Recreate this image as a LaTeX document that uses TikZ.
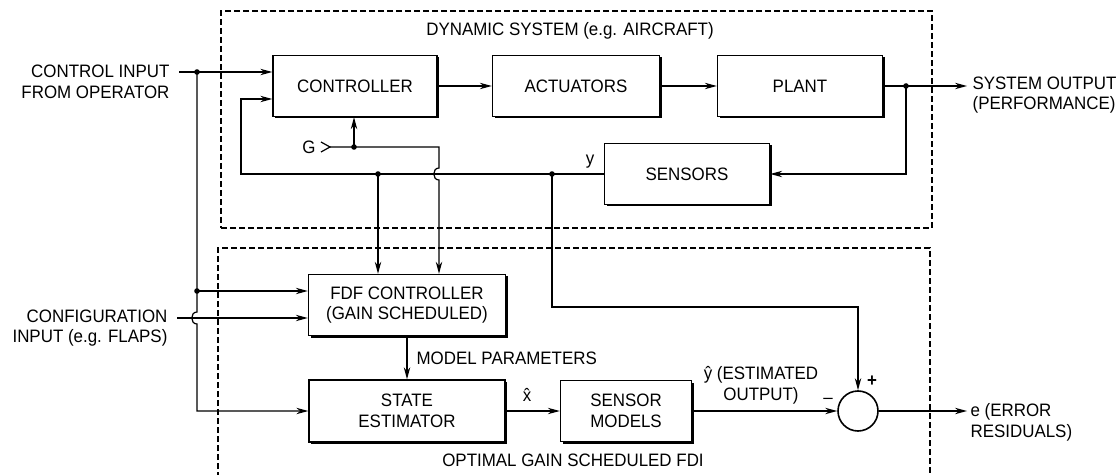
\documentclass[tikz,border=0pt]{standalone}
\usepackage{fontspec}
\setmainfont{Liberation Sans}[FakeStretch=0.94]
\usetikzlibrary{arrows.meta,shadows,calc}

\begin{document}
\begin{tikzpicture}[
    x=0.5pt, y=-0.5pt,
    font=\fontsize{9}{10.4}\selectfont,
    line width=0.6pt,
    blk/.style={draw, fill=white, line width=0.7pt, align=center, inner sep=2pt,
        drop shadow={shadow xshift=1pt, shadow yshift=-1pt, fill=black, opacity=1}},
    grp/.style={draw, line width=0.6pt, dash pattern=on 3pt off 1.5pt},
    arr/.style={-{Stealth[length=6pt, width=3.2pt]}},
    lbl/.style={inner sep=0pt}
]
  \useasboundingbox (0,0) rectangle (1117,475);

  % -------------------------------------------------------------
  % DYNAMIC SYSTEM
  % -------------------------------------------------------------
  \node[grp, minimum width=355.5pt, minimum height=108.5pt] (dyn) at (576.5,119.5) {};
  \node[lbl] (dyntitle) at (570,31) {DYNAMIC SYSTEM (e.g. AIRCRAFT)};

  \node[blk, minimum width=82pt, minimum height=30.5pt] (ctrl) at (355,86) {CONTROLLER};
  \node[blk, minimum width=83.5pt, minimum height=30.5pt] (act) at (576,86) {ACTUATORS};
  \node[blk, minimum width=82.5pt, minimum height=30.5pt] (plant) at (800,86) {PLANT};
  \node[blk, minimum width=82.5pt, minimum height=30.5pt] (sens) at (687,174) {SENSORS};

  % -------------------------------------------------------------
  % OPTIMAL GAIN SCHEDULED FDI
  % -------------------------------------------------------------
  \draw[grp] (218,478) -- (218,248) -- (930,248) -- (930,478);
  \node[lbl] (fdititle) at (573,460) {OPTIMAL GAIN SCHEDULED FDI};

  \node[blk, minimum width=98.5pt, minimum height=30.5pt] (fdf) at (407,305) {FDF CONTROLLER\\(GAIN SCHEDULED)};
  \node[blk, minimum width=98pt, minimum height=31pt] (est) at (407,411) {STATE\\ESTIMATOR};
  \node[blk, minimum width=65.5pt, minimum height=30.5pt] (smod) at (626,411) {SENSOR\\MODELS};
  \node[draw, circle, minimum size=20pt, line width=0.8pt, inner sep=0pt] (sum) at (858,411) {};

  % outside texts
  \node[lbl, align=right, anchor=east] (ctrlin) at (170,82) {CONTROL INPUT\\FROM OPERATOR};
  \node[lbl, align=right, anchor=east] (cfgin) at (168,328) {CONFIGURATION\\INPUT (e.g. FLAPS)};
  \node[lbl, align=left, anchor=west] (sysout) at (972,95) {SYSTEM OUTPUT\\(PERFORMANCE)};
  \node[lbl, align=left, anchor=west] (err) at (970,422) {e (ERROR\\RESIDUALS)};

  % junctions
  \coordinate (ciin) at (179,72);
  \coordinate (jci) at (197,72);
  \coordinate (jcf) at (197,291);
  \coordinate (cfin) at (177,318);
  \coordinate (jpo) at (906,86);
  \coordinate (soout) at (967,86);
  \coordinate (fbc) at (241,174);
  \coordinate (gin) at (330,147);
  \coordinate (jg) at (354,147);
  \coordinate (gc) at (439,147);
  \coordinate (jfa) at (378,174);
  \coordinate (jfb) at (552,174);
  \coordinate (yc) at (858,307);
  \coordinate (eout) at (967,411);

  % forward path
  \draw[arr] (ciin) -- ([yshift=7pt]ctrl.west);
  \draw[arr] (ctrl) -- (act);
  \draw[arr] (act) -- (plant);
  \draw[arr] (plant) -- (soout);
  \draw[arr] (jpo) |- (sens.east);
  \draw[arr] (sens.west) -- (fbc) |- ([yshift=-6.5pt]ctrl.west);
  \node[lbl] (ylab) at (590,162) {y};

  % gain input
  \node[lbl] (gtxt) at (309,147) {G};
  \draw (gin) ++(-9,-5) -- (gin) -- ++(-9,5);
  \draw[arr] (jg) -- (jg |- ctrl.south);
  \draw[arr] (gin) -- (gc) -- (439,168) .. controls (432,168) and (432,180) .. (439,180) -- (gc |- fdf.north);
  \draw[arr] (jfa) -- (jfa |- fdf.north);

  % left inputs
  \draw[arr] (jci) -- (jcf) -- (197,312) .. controls (190,312) and (190,324) .. (197,324) |- (est.west);
  \draw[arr] (jcf) -- ([yshift=7pt]fdf.west);
  \draw[arr] (cfin) -- ([yshift=-6.5pt]fdf.west);

  % estimator chain
  \draw[arr] (fdf) -- (est);
  \node[lbl, anchor=west] (mpar) at (416,358) {MODEL PARAMETERS};
  \draw[arr] (est) -- (smod);
  \node[lbl] (xhat) at (527,395) {\^{x}};
  \draw[arr] (smod) -- (sum);
  \node[lbl, align=center] (yhat) at (761,385) {\^{y} (ESTIMATED\\OUTPUT)};
  \draw[arr] (jfb) |- (yc) -- (sum);
  \node[lbl] (plus) at (872,381) {\textbf{+}};
  \node[lbl] (minus) at (828,401) {--};
  \draw[arr] (sum) -- (eout);

  \foreach \j in {jci,jcf,jg,jfa,jfb,jpo}
    \fill (\j) circle[radius=1.4pt];

\end{tikzpicture}
\end{document}
